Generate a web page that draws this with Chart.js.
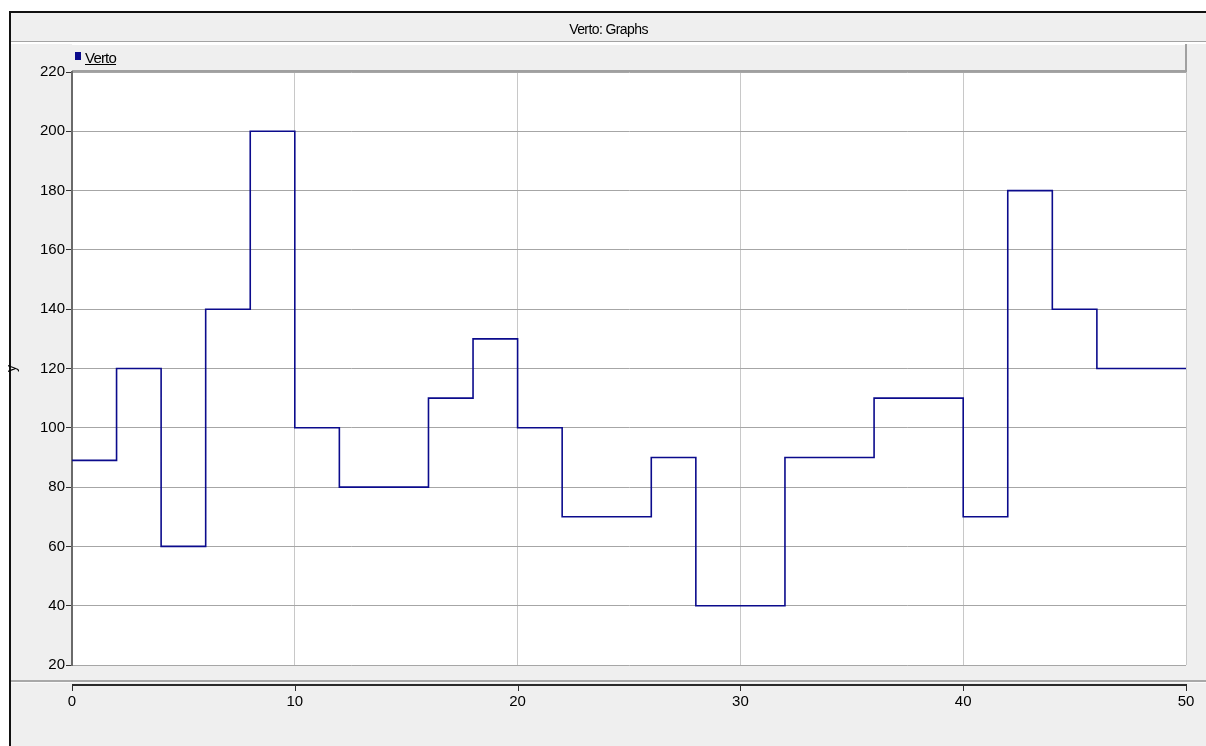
<!DOCTYPE html>
<html>
<head>
<meta charset="utf-8">
<script src="https://cdn.jsdelivr.net/npm/chart.js@4/dist/chart.umd.min.js"></script>
<style>
  html, body { margin: 0; padding: 0; background: #fff; }
  #wrap { position: relative; width: 1206px; height: 746px; overflow: hidden; }
  #chart { position: absolute; left: 0; top: 0; }
  .txt { position: absolute; font-family: "Liberation Sans Narrow", "Liberation Sans", Arial, sans-serif; color: #000; white-space: nowrap; }
  #title { left: 11px; width: 1195px; top: 21px; font-size: 14px; text-align: center; letter-spacing: -0.6px; }
  #legend { left: 75px; top: 49px; font-size: 15px; letter-spacing: -0.8px; }
  #legend .box { display: inline-block; width: 6px; height: 8px; margin-right: 4px; vertical-align: 3px; }
  #legend .lbl { text-decoration: underline; }
</style>
</head>
<body>
<div id="wrap">
  <canvas id="chart" width="1206" height="746"></canvas>
  <div id="title" class="txt">Verto: Graphs</div>
  <div id="legend" class="txt"></div>
</div>
<script>
// Step positions (x) and the value held from each one until the next
const stepX = [0, 2, 4, 6, 8, 10, 12, 16, 18, 20, 22, 26, 28, 32, 36, 40, 42, 44, 46, 50];
const stepY = [89, 120, 60, 140, 200, 100, 80, 110, 130, 100, 70, 90, 40, 90, 110, 70, 180, 140, 120, 120];
const seriesName = 'Verto';
const lineColor = '#0b0b8c';

const fontFamily = '"Liberation Sans Narrow", "Liberation Sans", Arial, sans-serif';

// Grey window chrome behind the plot
const chromePlugin = {
    id: 'chrome',
    beforeDraw(chart) {
        const ctx = chart.ctx;
        const area = chart.chartArea;
        ctx.save();
        ctx.fillStyle = '#ffffff';
        ctx.fillRect(0, 0, 1206, 746);
        ctx.fillStyle = '#efefef';
        ctx.fillRect(9, 12, 1197, 734);
        // outer dark frame
        ctx.fillStyle = '#111';
        ctx.fillRect(9, 11, 1197, 2);
        ctx.fillRect(9, 11, 2, 735);
        // title bar bottom edge
        ctx.fillStyle = '#a3a3a3';
        ctx.fillRect(11, 41, 1195, 1);
        ctx.fillStyle = '#ffffff';
        ctx.fillRect(11, 42, 1195, 2);
        // legend bar
        ctx.fillStyle = '#ffffff';
        ctx.fillRect(area.left, 44, area.right - area.left, 1);
        ctx.fillStyle = '#a0a0a0';
        ctx.fillRect(area.left, 70, area.right - area.left, 2);
        ctx.fillRect(area.right - 1, 44, 2, 28);
        // plot background
        ctx.fillStyle = '#ffffff';
        ctx.fillRect(area.left, area.top, area.right - area.left, area.bottom - area.top);
        // separator above x axis band
        ctx.fillStyle = '#a8a8a8';
        ctx.fillRect(11, 680, 1195, 2);
        ctx.fillStyle = '#fafafa';
        ctx.fillRect(11, 682, 1195, 1);
        ctx.restore();
    },
    afterDraw(chart) {
        const ctx = chart.ctx;
        const xs = chart.scales.x;
        const y0 = 684;
        ctx.save();
        ctx.fillStyle = '#2a2a2a';
        ctx.fillRect(xs.left, y0, xs.right - xs.left + 1, 2);
        xs.ticks.forEach(t => {
            const px = Math.round(xs.getPixelForValue(t.value));
            ctx.fillRect(px, y0, 1, 7);
        });
        ctx.restore();
    }
};

const chart = new Chart(document.getElementById('chart'), {
    type: 'line',
    data: {
        datasets: [{
            label: seriesName,
            data: stepX.map((x, i) => ({ x: x, y: stepY[i] })),
            borderColor: lineColor,
            backgroundColor: lineColor,
            borderWidth: 1.6,
            stepped: 'before',
            pointRadius: 0,
            fill: false
        }]
    },
    options: {
        responsive: false,
        animation: false,
        layout: { padding: { top: 72, right: 20, bottom: 0, left: 0 } },
        plugins: {
            legend: { display: false },
            title: { display: false },
            tooltip: { enabled: false }
        },
        scales: {
            x: {
                type: 'linear',
                min: 0,
                max: 50,
                afterFit: (scale) => { scale.height = 81; },
                ticks: {
                    stepSize: 10,
                    padding: 3,
                    color: '#000',
                    font: { family: fontFamily, size: 15 }
                },
                grid: { color: '#c8c8c8', lineWidth: 1, drawTicks: true, tickLength: 25, tickColor: 'rgba(0,0,0,0)' },
                border: { display: false }
            },
            y: {
                min: 20,
                max: 220,
                afterFit: (scale) => { scale.width = 72; },
                title: {
                    display: true,
                    text: 'y',
                    color: '#000',
                    padding: { top: 4, bottom: 0 },
                    font: { family: fontFamily, size: 14 }
                },
                ticks: {
                    stepSize: 20,
                    padding: 1,
                    color: '#000',
                    font: { family: fontFamily, size: 15 }
                },
                grid: { color: '#a6a6a6', lineWidth: 1, tickLength: 6, tickColor: '#333' },
                border: { display: true, color: '#6a6a6a', width: 2 }
            }
        }
    },
    plugins: [chromePlugin]
});

// legend built from the dataset
const legendEl = document.getElementById('legend');
chart.data.datasets.forEach(ds => {
    const box = document.createElement('span');
    box.className = 'box';
    box.style.background = ds.borderColor;
    const lbl = document.createElement('span');
    lbl.className = 'lbl';
    lbl.textContent = ds.label;
    legendEl.appendChild(box);
    legendEl.appendChild(lbl);
});
</script>
</body>
</html>
